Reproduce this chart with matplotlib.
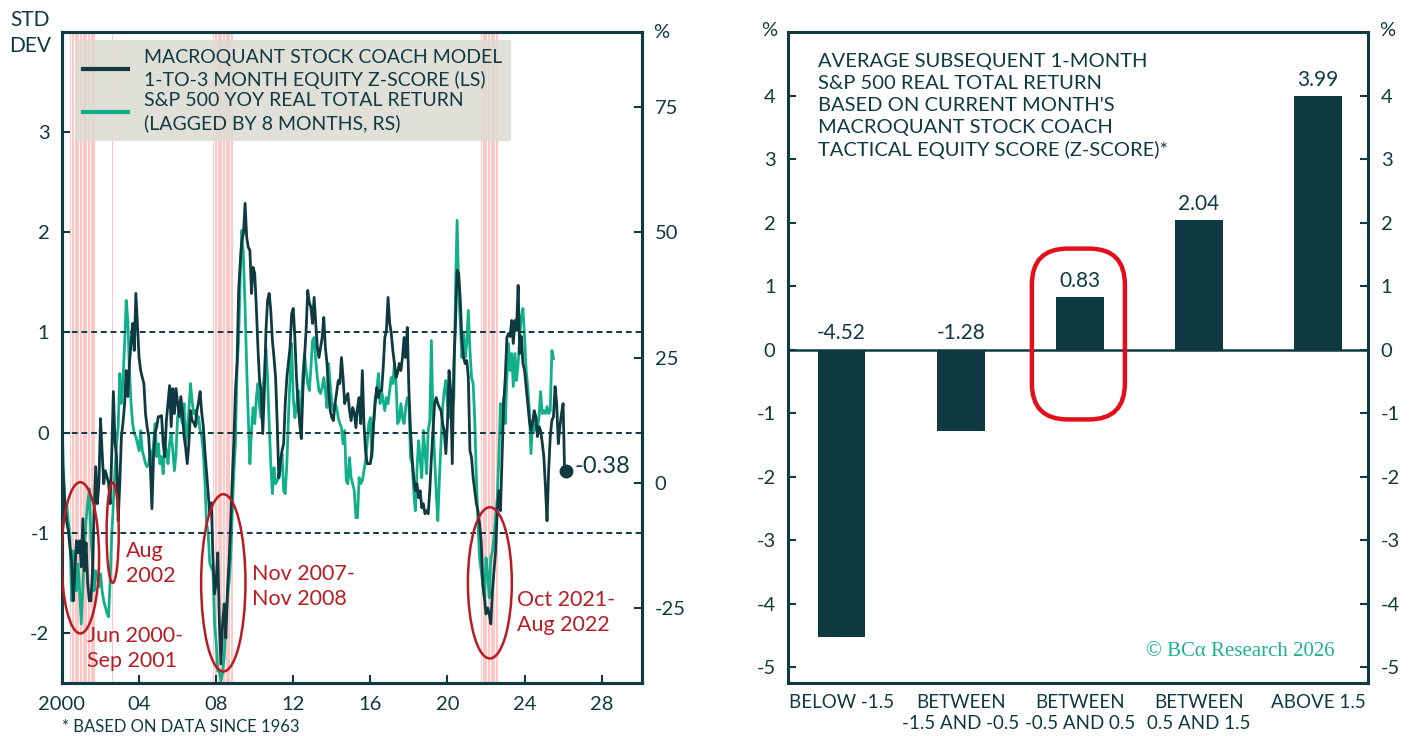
import numpy as np
import pandas as pd
import matplotlib
matplotlib.use('Agg')
import matplotlib.pyplot as plt
from matplotlib.patches import Ellipse, FancyBboxPatch
from matplotlib.lines import Line2D

plt.rcParams['font.family'] = ['Lato', 'DejaVu Sans']
plt.rcParams['axes.unicode_minus'] = False

DARK = '#0f3a41'
GREEN = '#12b08a'
RED = '#b71c23'
BOX_RED = '#e3101b'
PINK = '#ffc6c6'

#%% Data

# Stock coach model z-score, monthly from Jan 2000 (left scale)
zscore = [
    -0.2, -0.5, -0.75, -0.9, -0.98, -1.15, -1.28, -1.68, -1.4, -1.08, -1.2, -1.08,      # 2000
    -1.34, -0.86, -1.38, -1.1, -1.5, -1.68, -1.68, -1.38, -0.8, -0.34, -0.71, -0.51,    # 2001
    0.14, -0.2, -0.51, -0.38, -0.44, -0.5, -0.71, -0.2, 0.41, -0.1, -0.24, -0.88,       # 2002
    -0.5, -0.04, 0.1, 0.29, 0.62, 0.36, 0.69, 0.9, 1.09, 0.82, 1.39, 1.06,              # 2003
    0.75, 0.62, 0.55, 0.49, 0.19, 0.06, -0.04, -0.34, -0.76, -0.24, 0.0, 0.06,          # 2004
    0.16, 0.16, 0.17, -0.11, -0.24, 0.12, 0.3, 0.47, 0.06, 0.44, 0.19, 0.44,            # 2005
    0.3, 0.16, 0.36, 0.2, -0.04, -0.15, -0.31, -0.11, 0.22, 0.12, 0.1, 0.06,            # 2006
    0.22, 0.3, 0.41, 0.2, 0.06, -0.19, -0.4, -0.6, -0.8, -0.7, -1.25, -1.61,            # 2007
    -1.5, -1.2, -1.91, -2.31, -1.9, -1.71, -2.05, -1.58, -1.3, -0.91, -0.48, -0.1,      # 2008
    0.42, 0.69, 1.42, 1.7, 1.92, 1.99, 2.29, 1.95, 1.85, 1.82, 1.39, 1.65,              # 2009
    1.59, 1.25, 0.85, 0.52, 0.42, -0.01, 0.42, 1.02, 1.32, 1.39, 1.22, 0.92,            # 2010
    0.75, 0.55, 0.09, -0.45, -0.3, -0.18, -0.11, 0.29, 0.55, 0.7, 0.85, 1.19,           # 2011
    1.24, 0.95, 0.55, 0.29, 0.09, -0.06, 0.42, 0.75, 1.02, 1.42, 1.3, 1.25,             # 2012
    1.09, 1.35, 1.09, 0.85, 0.75, 0.85, 0.95, 1.15, 0.85, 0.69, 0.42, 0.22,             # 2013
    0.15, 0.12, 0.29, 0.4, 0.52, 0.49, 0.75, 0.55, 0.29, 0.35, 0.39, 0.22,              # 2014
    0.12, 0.25, 0.2, 0.05, 0.25, 0.35, 0.09, 0.62, 0.09, -0.18, -0.31, -0.31,           # 2015
    -0.31, -0.18, 0.09, 0.29, 0.45, 0.35, 0.42, 0.42, 0.65, 0.95, 1.02, 1.35,           # 2016
    1.1, 0.99, 0.82, 0.69, 0.55, 0.6, 0.69, 0.62, 0.75, 0.95, 0.75, 1.05,               # 2017
    0.42, 0.02, -0.25, -0.45, -0.58, -0.51, -0.65, -0.58, -0.75, -0.71, -0.81, -0.78,   # 2018
    -0.81, -0.58, -0.25, 0.02, 0.29, 0.35, 0.29, 0.25, 0.22, 0.09, 0.02, -0.21,         # 2019
    0.09, 0.62, 0.42, -0.31, 0.69, 1.09, 1.62, 1.59, 1.32, 0.92, 0.75, 0.69,            # 2020
    0.72, 0.55, -0.18, -0.25, -0.45, -0.58, -0.71, -0.78, -0.91, -1.08, -1.51, -1.65,   # 2021
    -1.81, -1.75, -1.81, -1.91, -1.58, -1.38, -1.18, -0.78, -0.58, -0.78, -0.25, 0.29,  # 2022
    0.55, 0.95, 0.99, 0.96, 1.12, 0.89, 1.12, 1.02, 1.47, 0.79, 0.96, 0.69,             # 2023
    0.62, 0.46, 0.29, 0.12, 0.02, 0.1, 0.22, 0.16, -0.04, 0.06, 0.02, -0.1,             # 2024
    -0.24, -0.54, -0.88, -0.38, -0.04, 0.12, 0.16, 0.46, 0.29, -0.11, 0.06, 0.19,       # 2025
    0.29, -0.44, -0.38,                                                                 # 2026
]

# S&P 500 yoy real total return, lagged 8 months, % (right scale)
spx_real_ret = [
    12.4, 2, -5, -4.2, -8, -10.8, -23.6, -13.6, -18.8, -21.6, -16.2, -21.6,       # 2000
    -28.2, -20.8, -12.8, -7.6, -4.2, -1.2, -10.8, -15.6, -21.6, -17.6, -18.8, -20.8,  # 2001
    -18.2, -21.6, -23.6, -24.8, -26, -26.8, -19.6, -10.2, -4.2, 2.4, 7.8, 11.2,   # 2002
    21.8, 15.8, 20.4, 27.8, 36.4, 32.4, 22.4, 15.8, 11.8, 9.8, 9.2, 7.8,          # 2003
    6.4, 10.4, 6.4, 5.2, 3.8, 3.2, 3.8, 6.4, 3.2, 7.8, 11.8, 5.2,                 # 2004
    7.8, 3.8, 5.2, 1.8, 7.8, 6.4, 3.8, 8, 9.8, 6.4, 2.4, 5.8,                     # 2005
    13.2, 14.4, 13.2, 11.8, 15.8, 7.8, 10.4, 14.4, 19.8, 16.4, 13.8, 14.4,        # 2006
    11.8, 13.2, 10.4, 9.2, 6, 0, -8, -10, -16, -17, -17.6, -28,                   # 2007
    -32, -37.6, -37.6, -39.6, -38, -35, -28.2, -23, -20, -15, -6, 2,              # 2008
    8, 23, 28.4, 41.8, 50.4, 45, 35, 23, 13, 3.8, 10.4, 15,                       # 2009
    11.8, 17, 19.8, 15, 13, 18.4, 21.8, 27, 21, 11.8, 3.8, -2.2,                  # 2010
    3, -0.2, 0.4, 1, 3, 5.8, -1.6, -2.2, 3.8, 13, 21, 27.8,                       # 2011
    17, 13, 15, 18.4, 13, 15.8, 21.8, 25.8, 22.4, 19.8, 18.4, 23,                 # 2012
    28.4, 29, 24.4, 21, 18.4, 17.8, 19, 21, 18.4, 15, 23.8, 19.8,                 # 2013
    15.8, 14.4, 15.8, 15, 13, 11.8, 11, 7.8, 10.4, 0.4, -0.2, 5,                  # 2014
    1, -0.2, -1.6, -7, -7, 1, -0.2, 0.4, 2.4, 4.4, 7.8, 11.8,                     # 2015
    13, 5, 11.8, 17, 18.4, 21.8, 15.8, 18.4, 16.4, 14.4, 17, 15.8,                # 2016
    18.4, 21, 19.8, 23.8, 19.8, 11.8, 12.4, 15.8, 13, 11.8, 15, 17,               # 2017
    15.8, 5, 3.8, -1.6, -5.6, 2.4, 8.4, 5, 1, 10.4, 6.4, 1.8,                     # 2018
    10.4, 12.4, 28.4, 12.4, 5, -2, -7.6, 1, 7.8, 15, 18.4, 20.4,                  # 2019
    15.8, 13, 18.4, 14.4, 17, 38.4, 52.4, 38.4, 31.8, 25, 29.8, 25,               # 2020
    27.8, 34.4, 26.4, 21, 19.8, 12.4, 1, -8.2, -15, -17.6, -20.2, -23,            # 2021
    -15, -18.2, -23, -15, -13.6, -11, -7, -3, 5, 15.8, 10.4, 17,                  # 2022
    11.8, 21.2, 27.8, 22.4, 25.8, 19.2, 25.8, 20.4, 23.8, 29.2, 33.2, 34.8,       # 2023
    29.2, 22.4, 19.2, 14.4, 5.8, 12.4, 10.4, 13.2, 10.4, 13.2, 18.2, 13.8,        # 2024
    14.4, 13.8, 15.2, 13.8, 14.4, 26.4, 24.8,                                     # 2025
]

# shaded episodes (first and last month)
shade_start = ['2000-06', '2002-08', '2007-11', '2021-10']
shade_end = ['2001-09', '2002-08', '2008-11', '2022-08']

# right panel: average next-month return by z-score bucket
buckets = ['BELOW -1.5', 'BETWEEN\n-1.5 AND -0.5', 'BETWEEN\n-0.5 AND 0.5',
           'BETWEEN\n0.5 AND 1.5', 'ABOVE 1.5']
avg_ret = [-4.52, -1.28, 0.83, 2.04, 3.99]


def dec_year(n):
    d = pd.date_range('2000-01-01', periods=n, freq='MS')
    return np.asarray(d.year + (d.month - 1) / 12.0)


t_z = dec_year(len(zscore))
t_g = dec_year(len(spx_real_ret))

fig = plt.figure(figsize=(14.15, 7.36), dpi=100)

#%% Left panel

ax = fig.add_axes([0.0438, 0.072, 0.41, 0.8845])
ax2 = ax.twinx()
ax.set_zorder(ax2.get_zorder() + 1)
ax.patch.set_visible(False)

for s0, s1 in zip(shade_start, shade_end):
    for p in pd.period_range(s0, s1, freq='M'):
        t = p.year + (p.month - 1) / 12.0
        ax2.axvspan(t, t + 0.06, color=PINK, lw=0, zorder=0)

ax2.plot(t_g, spx_real_ret, color=GREEN, lw=2.0, zorder=2)

for y in (-1, 0, 1):
    ax.axhline(y, color=DARK, ls=(0, (3, 2)), lw=1.4, zorder=1)
ax.plot(t_z, zscore, color=DARK, lw=2.0, zorder=3)
ax.plot(t_z[-1], zscore[-1], 'o', ms=9, color=DARK, zorder=4)
ax.text(t_z[-1] + 0.4, zscore[-1] + 0.04, f'{zscore[-1]:.2f}', color=DARK,
        fontsize=17, ha='left', va='center')

ax.set_xlim(2000, 2030.1)
ax.set_ylim(-2.5, 4.0)
ax2.set_ylim(-40, 90)
ax.set_xticks(range(2000, 2029, 4))
ax.set_xticklabels(['2000', '04', '08', '12', '16', '20', '24', '28'])
ax.set_yticks(range(-2, 4))
ax2.set_yticks([-25, 0, 25, 50, 75])

ax.tick_params(axis='both', direction='in', length=6, width=1.5, color=DARK,
               labelcolor=DARK, labelsize=14.5, pad=9)
ax2.tick_params(axis='y', direction='in', length=6, width=1.5, color=DARK,
                labelcolor=DARK, labelsize=14.5, pad=9)
for a in (ax, ax2):
    for s in a.spines.values():
        s.set_linewidth(2.2)
        s.set_color(DARK)

# crisis markers
ellipses = [(2000.95, -1.25, 1.95, 1.51), (2002.63, -1.0, 0.63, 1.0),
            (2008.37, -1.5, 2.3, 1.77), (2022.2, -1.5, 2.28, 1.51)]
for cx, cy, w, h in ellipses:
    ax.add_patch(Ellipse((cx, cy), w, h, fill=False, ec=RED, lw=1.8, zorder=5))

notes = [(2003.3, -1.305, 'Aug\n2002'), (2001.28, -2.155, 'Jun 2000-\nSep 2001'),
         (2009.87, -1.54, 'Nov 2007-\nNov 2008'), (2023.63, -1.795, 'Oct 2021-\nAug 2022')]
for nx, ny, s in notes:
    ax.text(nx, ny, s, color=RED, fontsize=15.5, ha='left', va='center',
            linespacing=1.32, zorder=6)

handles = [Line2D([], [], color=DARK, lw=3), Line2D([], [], color=GREEN, lw=3)]
labels = ['MACROQUANT STOCK COACH MODEL\n1-TO-3 MONTH EQUITY Z-SCORE (LS)',
          'S&P 500 YOY REAL TOTAL RETURN\n(LAGGED BY 8 MONTHS, RS)']
leg = ax.legend(handles, labels, loc='upper left', bbox_to_anchor=(0.022, 0.988),
                borderaxespad=0, fontsize=14, frameon=True, fancybox=False,
                handlelength=2.3, handletextpad=0.8, borderpad=0.45,
                labelspacing=0.12, labelcolor=DARK)
for t in leg.get_texts():
    t.set_linespacing(1.38)
leg.get_frame().set_facecolor('#dcdbd3')
leg.get_frame().set_edgecolor('none')
leg.get_frame().set_alpha(0.88)

fig.text(30 / 1415, 1 - 33 / 736, 'STD\nDEV', ha='center', va='center',
         fontsize=15, color=DARK, linespacing=1.35)
fig.text(661 / 1415, 1 - 33 / 736, '%', ha='center', va='center',
         fontsize=14.5, color=DARK)
fig.text(62 / 1415, 0.002, '* BASED ON DATA SINCE 1963', ha='left', va='bottom',
         fontsize=12, color=DARK)

#%% Right panel

ax3 = fig.add_axes([0.5569, 0.072, 0.41, 0.8845])
x = np.arange(len(avg_ret))
ax3.bar(x, avg_ret, width=0.4, color=DARK, zorder=2)
ax3.axhline(0, color=DARK, lw=1.8, zorder=3)
for xi, v in zip(x, avg_ret):
    ax3.text(xi, max(v, 0) + 0.1, f'{v:.2f}', ha='center', va='bottom',
             fontsize=15, color=DARK)

ax3.set_xlim(-0.45, 4.42)
ax3.set_ylim(-5.25, 5.0)
ax3.set_yticks(range(-5, 5))
ax3.set_xticks(x)
ax3.set_xticklabels(buckets)
for lbl in ax3.get_xticklabels():
    lbl.set_multialignment('center')
    lbl.set_linespacing(1.3)
ax3.yaxis.set_ticks_position('both')
ax3.tick_params(axis='y', direction='in', length=6, width=1.5, color=DARK,
                labelcolor=DARK, labelsize=14.5, pad=9, labelright=True)
ax3.tick_params(axis='x', length=0, labelcolor=DARK, labelsize=13.5, pad=8)
for s in ax3.spines.values():
    s.set_linewidth(2.2)
    s.set_color(DARK)

# highlight the neutral bucket
ax3.add_patch(FancyBboxPatch((1.597, -1.10), 0.781, 2.69,
                             boxstyle='round,pad=0,rounding_size=0.3',
                             mutation_aspect=1.9, fill=False, ec=BOX_RED,
                             lw=3.2, zorder=4))

ax3.text(0.052, 0.968,
         "AVERAGE SUBSEQUENT 1-MONTH\nS&P 500 REAL TOTAL RETURN\n"
         "BASED ON CURRENT MONTH'S\nMACROQUANT STOCK COACH\n"
         "TACTICAL EQUITY SCORE (Z-SCORE)*",
         transform=ax3.transAxes, ha='left', va='top', fontsize=14.5,
         color=DARK, linespacing=1.36)
ax3.text(0.943, 0.048, '© BCα Research 2026', transform=ax3.transAxes,
         ha='right', va='center', fontsize=15, color='#1db38a',
         family=['Liberation Serif', 'DejaVu Serif'])

fig.text(769 / 1415, 1 - 30 / 736, '%', ha='center', va='center',
         fontsize=14.5, color=DARK)
fig.text(1387 / 1415, 1 - 30 / 736, '%', ha='center', va='center',
         fontsize=14.5, color=DARK)

fig.savefig('out.png', dpi=100)
